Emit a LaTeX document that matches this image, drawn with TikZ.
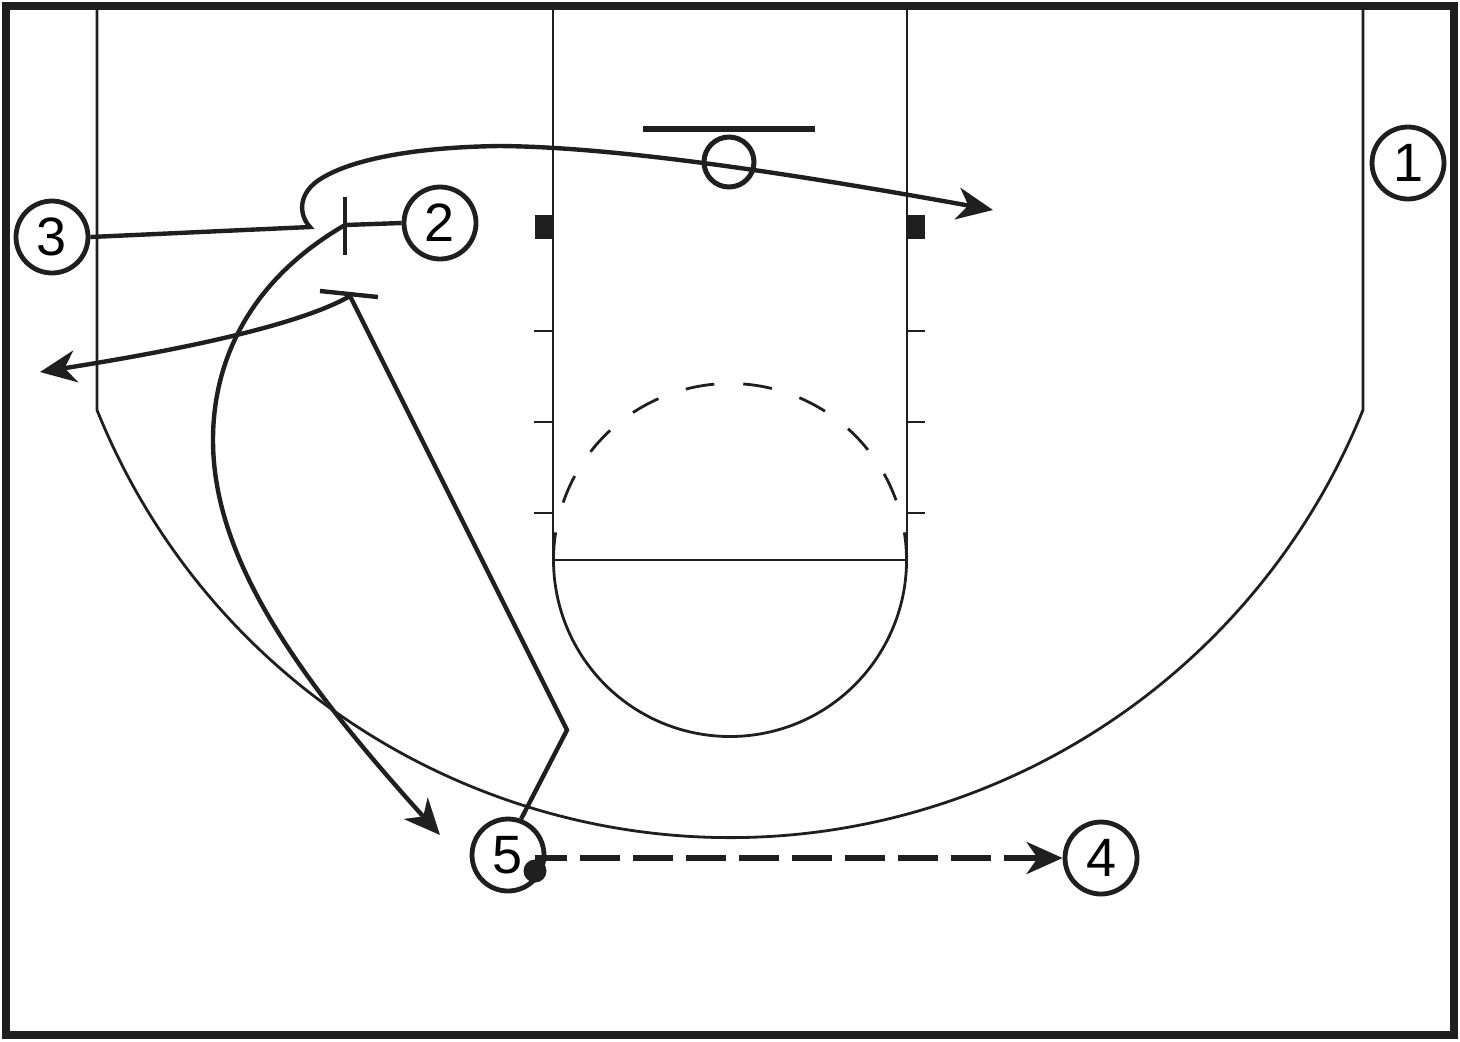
\documentclass[tikz,border=0pt]{standalone}
\usepackage{fontspec}
\setmainfont{Liberation Sans}
\usetikzlibrary{arrows.meta}
\begin{document}
\begin{tikzpicture}[x=0.5pt,y=-0.5pt,
  court/.style={line width=1.4pt, draw=black!88},
  play/.style={line width=2.2pt, draw=black!88},
  mv/.style={play, -{Stealth[length=18pt,width=16pt,inset=5.5pt]}},
  passline/.style={mv, line width=2.7pt, dash pattern=on 20pt off 6.5pt, dash phase=4pt},
  player/.style={circle, draw=black!88, line width=2.4pt, minimum size=36pt, inner sep=0pt, fill=white, font=\fontsize{27}{27}\selectfont},
  barline/.style={line width=2.2pt, draw=black!88},
]
\useasboundingbox (0,0) rectangle (1460,1041);
% court outline
\draw[line width=4pt, draw=black!88] (6,6) rectangle (1454,1035);
% three point line
\draw[court] (97,6) -- (97,410) arc[start angle=158.06, end angle=21.94, radius=682.4] -- (1363,6);
% lane
\draw[court] (553,6) -- (553,560) -- (907,560) -- (907,6);
% free throw circle
\draw[court] (730,560) ++(-9:176.5) arc[start angle=-9, end angle=189, radius=176.5];
\draw[court, dash pattern=on 14.5pt off 14.5pt] (730,560) ++(199:176.5) arc[start angle=199, end angle=341, radius=176.5];
% hash marks
\foreach \yy in {331,422,513}{
  \draw[court] (534,\yy) -- (553,\yy);
  \draw[court] (907,\yy) -- (925,\yy);
}
\fill[black!88] (535,215) rectangle (553,239);
\fill[black!88] (907,215) rectangle (925,239);
% backboard and rim
\draw[line width=3pt, draw=black!88] (643,129) -- (815,129);
\draw[line width=2.5pt, draw=black!88] (729,162) circle[radius=25];

% players
\node[player] (p1) at (1408,163) {1};
\node[player] (p2) at (440,223) {2};
\node[player] (p3) at (52,237) {3};
\node[player] (p4) at (1101,858) {4};
\node[player] (p5) at (508,855) {5};

% screen points
\coordinate (s2) at (345,225);
\coordinate (s2a) at (345,197);
\coordinate (s2b) at (345,255);
\coordinate (s5) at (350,296);
\coordinate (s5a) at (320,291);
\coordinate (s5b) at (378,297);
\coordinate (k5) at (567,730);
\coordinate (t3) at (993,210);
\coordinate (t2) at (440,835);
\coordinate (t5) at (40,372);

% path of 3
\draw[mv] (p3.east) -- (310,227) .. controls (298,214) and (298,192) .. (322,178)
  .. controls (355,158) and (420,147) .. (500,146)
  .. controls (620,147) and (800,175) .. (t3);
% path of 2
\draw[play] (p2.west) -- (s2);
\draw[barline] (s2a) -- (s2b);
\draw[mv] (s2) .. controls (250,280) and (213,360) .. (213,440)
  .. controls (213,560) and (300,680) .. (t2);
% path of 5
\draw[play] (p5.70) -- (k5) -- (s5);
\draw[barline] (s5a) -- (s5b);
\draw[mv] (s5) .. controls (300,325) and (180,350) .. (t5);
% pass
\node[circle, fill=black!88, minimum size=11.5pt, inner sep=0pt] (dot) at (535,871) {};
\coordinate (ps) at (dot.center |- p4.west);
\draw[passline] (ps) -- (p4.west);
\end{tikzpicture}
\end{document}
